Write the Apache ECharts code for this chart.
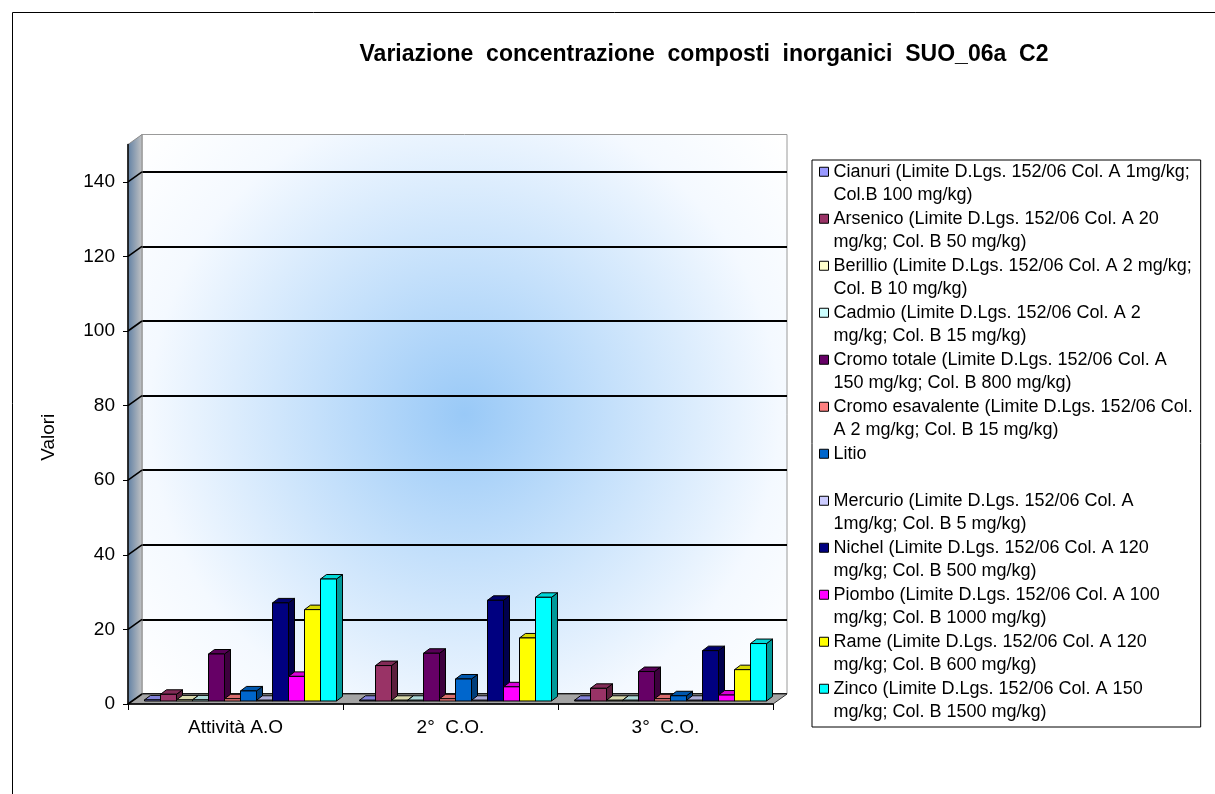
<!DOCTYPE html>
<html>
<head>
<meta charset="utf-8">
<script src="https://cdn.jsdelivr.net/npm/echarts@6/dist/echarts.min.js"></script>
<style>html,body{margin:0;padding:0;background:#fff;}#c{width:1215px;height:794px;}</style>
</head>
<body>
<div id="c"></div>
<script>
// ---- data ----
const categories = ['Attività A.O', '2°  C.O.', '3°  C.O.'];
const yTicks = [0, 20, 40, 60, 80, 100, 120, 140];
const metals = [
  'Cianuri (Limite D.Lgs. 152/06 Col. A 1mg/kg; Col.B 100 mg/kg)',
  'Arsenico (Limite D.Lgs. 152/06 Col. A 20 mg/kg; Col. B 50 mg/kg)',
  'Berillio (Limite D.Lgs. 152/06 Col. A 2 mg/kg; Col. B 10 mg/kg)',
  'Cadmio (Limite D.Lgs. 152/06 Col. A 2 mg/kg; Col. B 15 mg/kg)',
  'Cromo totale (Limite D.Lgs. 152/06 Col. A 150 mg/kg; Col. B 800 mg/kg)',
  'Cromo esavalente (Limite D.Lgs. 152/06 Col. A 2 mg/kg; Col. B 15 mg/kg)',
  'Litio',
  'Mercurio (Limite D.Lgs. 152/06 Col. A 1mg/kg; Col. B 5 mg/kg)',
  'Nichel (Limite D.Lgs. 152/06 Col. A 120 mg/kg; Col. B 500 mg/kg)',
  'Piombo (Limite D.Lgs. 152/06 Col. A 100 mg/kg; Col. B 1000 mg/kg)',
  'Rame (Limite D.Lgs. 152/06 Col. A 120 mg/kg; Col. B 600 mg/kg)',
  'Zinco (Limite D.Lgs. 152/06 Col. A 150 mg/kg; Col. B 1500 mg/kg)'
];
const legendLabels = [
  'Cianuri (Limite D.Lgs. 152/06 Col. A 1mg/kg;\nCol.B 100 mg/kg)',
  'Arsenico (Limite D.Lgs. 152/06 Col. A 20\nmg/kg; Col. B 50 mg/kg)',
  'Berillio (Limite D.Lgs. 152/06 Col. A 2 mg/kg;\nCol. B 10 mg/kg)',
  'Cadmio (Limite D.Lgs. 152/06 Col. A 2\nmg/kg; Col. B 15 mg/kg)',
  'Cromo totale (Limite D.Lgs. 152/06 Col. A\n150 mg/kg; Col. B 800 mg/kg)',
  'Cromo esavalente (Limite D.Lgs. 152/06 Col.\nA 2 mg/kg; Col. B 15 mg/kg)',
  'Litio\n ',
  'Mercurio (Limite D.Lgs. 152/06 Col. A\n1mg/kg; Col. B 5 mg/kg)',
  'Nichel (Limite D.Lgs. 152/06 Col. A 120\nmg/kg; Col. B 500 mg/kg)',
  'Piombo (Limite D.Lgs. 152/06 Col. A 100\nmg/kg; Col. B 1000 mg/kg)',
  'Rame (Limite D.Lgs. 152/06 Col. A 120\nmg/kg; Col. B 600 mg/kg)',
  'Zinco (Limite D.Lgs. 152/06 Col. A 150\nmg/kg; Col. B 1500 mg/kg)'
];
const cianuri         = [0.3, 0.2, 0.2];
const arsenico        = [1.8, 9.5, 3.4];
const berillio        = [0.3, 0.2, 0.2];
const cadmio          = [0.3, 0.2, 0.2];
const cromoTotale     = [12.6, 12.8, 7.9];
const cromoEsavalente = [0.6, 0.6, 0.6];
const litio           = [2.7, 5.9, 1.4];
const mercurio        = [0.2, 0.2, 0.2];
const nichel          = [26.3, 27.0, 13.5];
const piombo          = [6.6, 3.8, 1.6];
const rame            = [24.5, 16.9, 8.4];
const zinco           = [32.7, 27.8, 15.4];
const seriesValues = [cianuri, arsenico, berillio, cadmio, cromoTotale, cromoEsavalente,
                      litio, mercurio, nichel, piombo, rame, zinco];
const colors = ['#9999FF', '#993366', '#FFFFCC', '#CCFFFF', '#660066', '#FF8080',
                '#0066CC', '#CCCCFF', '#000080', '#FF00FF', '#FFFF00', '#00FFFF'];

// ---- styling constants ----
const FONT = "'Liberation Sans', Arial, sans-serif";
const WALL_DX = 14, WALL_DY = -10;
const BAR_FRAC = 16 / 215, OX = 5, OY = -3, DX = 6, DY = -4.5;

function shade(hex, f) {
  const n = parseInt(hex.slice(1), 16);
  const r = Math.round(((n >> 16) & 255) * f), g = Math.round(((n >> 8) & 255) * f), b = Math.round((n & 255) * f);
  return 'rgb(' + r + ',' + g + ',' + b + ')';
}

function makeBarRender(s, color) {
  const topC = shade(color, 0.85), sideC = shade(color, 0.6);
  return function (params, api) {
    const i = api.value(0), v = api.value(1);
    const pt = api.coord([i, v]), pb = api.coord([i, 0]);
    const band = api.size([1, 0])[0];
    const w = band * BAR_FRAC;
    const x = pt[0] - 6 * w + s * w + OX;
    const yt = pt[1] + OY, yb = pb[1] + OY;
    const st = { stroke: '#000', lineWidth: 1 };
    return {
      type: 'group',
      children: [
        { type: 'polygon', shape: { points: [[x + w, yt], [x + w + DX, yt + DY], [x + w + DX, yb + DY], [x + w, yb]] }, style: Object.assign({ fill: sideC }, st) },
        { type: 'polygon', shape: { points: [[x, yt], [x + DX, yt + DY], [x + w + DX, yt + DY], [x + w, yt]] }, style: Object.assign({ fill: topC }, st) },
        { type: 'rect', shape: { x: x, y: yt, width: w, height: yb - yt }, style: Object.assign({ fill: color }, st) }
      ]
    };
  };
}

function renderDecor(params, api) {
  const cs = params.coordSys;
  const x0 = cs.x, x1 = cs.x + cs.width;
  const y0 = api.coord([0, 0])[1];
  const yTop = cs.y;
  const children = [];
  children.push({
    type: 'polygon',
    shape: { points: [[x0, yTop], [x0 + WALL_DX, yTop + WALL_DY], [x0 + WALL_DX, y0 + WALL_DY], [x0, y0]] },
    style: {
      fill: new echarts.graphic.LinearGradient(0, 0, 1, 0, [{ offset: 0, color: '#5f7fa3' }, { offset: 1, color: '#c4c4c4' }]),
      stroke: '#8a8a8a', lineWidth: 1
    }
  });
  children.push({
    type: 'polygon',
    shape: { points: [[x0, y0], [x0 + WALL_DX, y0 + WALL_DY], [x1 + WALL_DX, y0 + WALL_DY], [x1, y0]] },
    style: { fill: '#a4a4a4', stroke: '#333', lineWidth: 1 }
  });
  yTicks.forEach(function (t) {
    const y = api.coord([0, t])[1];
    children.push({ type: 'line', shape: { x1: x0, y1: y, x2: x0 + WALL_DX, y2: y + WALL_DY }, style: { stroke: '#000', lineWidth: 1.6 } });
  });
  return { type: 'group', children: children };
}

const chart = echarts.init(document.getElementById('c'), null, { renderer: 'canvas' });

const series = [{
  type: 'custom',
  name: '__decor',
  xAxisIndex: 0, yAxisIndex: 0,
  z: 1,
  silent: true,
  data: [[0, 0]],
  renderItem: renderDecor
}];
metals.forEach(function (m, s) {
  series.push({
    type: 'custom',
    name: m,
    xAxisIndex: 0, yAxisIndex: 0,
    z: 3,
    itemStyle: { color: colors[s], borderColor: '#000', borderWidth: 1 },
    encode: { x: 0, y: 1 },
    data: seriesValues[s].map(function (v, i) { return [i, v]; }),
    renderItem: makeBarRender(s, colors[s])
  });
});

chart.setOption({
  animation: false,
  textStyle: { fontFamily: FONT },
  title: {
    text: 'Variazione  concentrazione  composti  inorganici  SUO_06a  C2',
    left: 699, top: 38, textAlign: 'center',
    textStyle: { fontFamily: FONT, fontSize: 23, fontWeight: 'bold', color: '#000' }
  },
  graphic: [{
    type: 'rect', left: 10, top: 10, z: 100, silent: true,
    shape: { width: 1300, height: 900 },
    style: { fill: null, stroke: '#000', lineWidth: 1 }
  }],
  legend: {
    data: metals,
    orient: 'vertical',
    left: 812, top: 160,
    padding: [-23.5, 8, 3, 7],
    itemGap: -23.5,
    itemWidth: 9, itemHeight: 9,
    icon: 'rect',
    borderColor: '#000', borderWidth: 1,
    selectedMode: false,
    itemStyle: { borderColor: '#000', borderWidth: 1 },
    formatter: function (name) { return ' \n' + legendLabels[metals.indexOf(name)]; },
    textStyle: { fontFamily: FONT, fontSize: 18, lineHeight: 23.5, color: '#000' }
  },
  grid: [
    { left: 128, right: 442, top: 144.5, bottom: 90 },
    {
      left: 128 + WALL_DX, right: 442 - WALL_DX, top: 144.5 + WALL_DY, bottom: 90 - WALL_DY,
      show: true, borderColor: '#9a9a9a', borderWidth: 1,
      backgroundColor: new echarts.graphic.RadialGradient(0.5, 0.5, 0.75, [
        { offset: 0, color: '#99c9f7' },
        { offset: 0.35, color: '#c4e0fb' },
        { offset: 0.75, color: '#f4f9ff' },
        { offset: 1, color: '#ffffff' }
      ])
    }
  ],
  xAxis: [
    {
      type: 'category', gridIndex: 0, data: categories, z: 10,
      axisLine: { lineStyle: { color: '#000', width: 1.5 } },
      axisTick: { show: true, length: 6, lineStyle: { color: '#000' } },
      axisLabel: { color: '#000', fontSize: 19, margin: 14, fontFamily: FONT }
    },
    { type: 'category', gridIndex: 1, data: categories, show: false }
  ],
  yAxis: [
    {
      type: 'value', gridIndex: 0, min: 0, max: 150, interval: 20, z: 10,
      name: 'Valori', nameLocation: 'middle', nameRotate: 90, nameGap: 70,
      nameTextStyle: { color: '#000', fontSize: 19, fontFamily: FONT, padding: [0, 0, 0, -26] },
      axisLine: { show: true, lineStyle: { color: '#000', width: 1.5 } },
      axisTick: { show: true, length: 5, lineStyle: { color: '#000' }, customValues: yTicks },
      axisLabel: { color: '#000', fontSize: 19, margin: 13, fontFamily: FONT, customValues: yTicks },
      splitLine: { show: false }
    },
    {
      type: 'value', gridIndex: 1, min: 0, max: 150, interval: 20,
      axisLine: { show: false }, axisTick: { show: false }, axisLabel: { show: false },
      splitLine: { show: true, showMaxLine: false, lineStyle: { color: '#000', width: 2 } }
    }
  ],
  series: series
});
</script>
</body>
</html>
